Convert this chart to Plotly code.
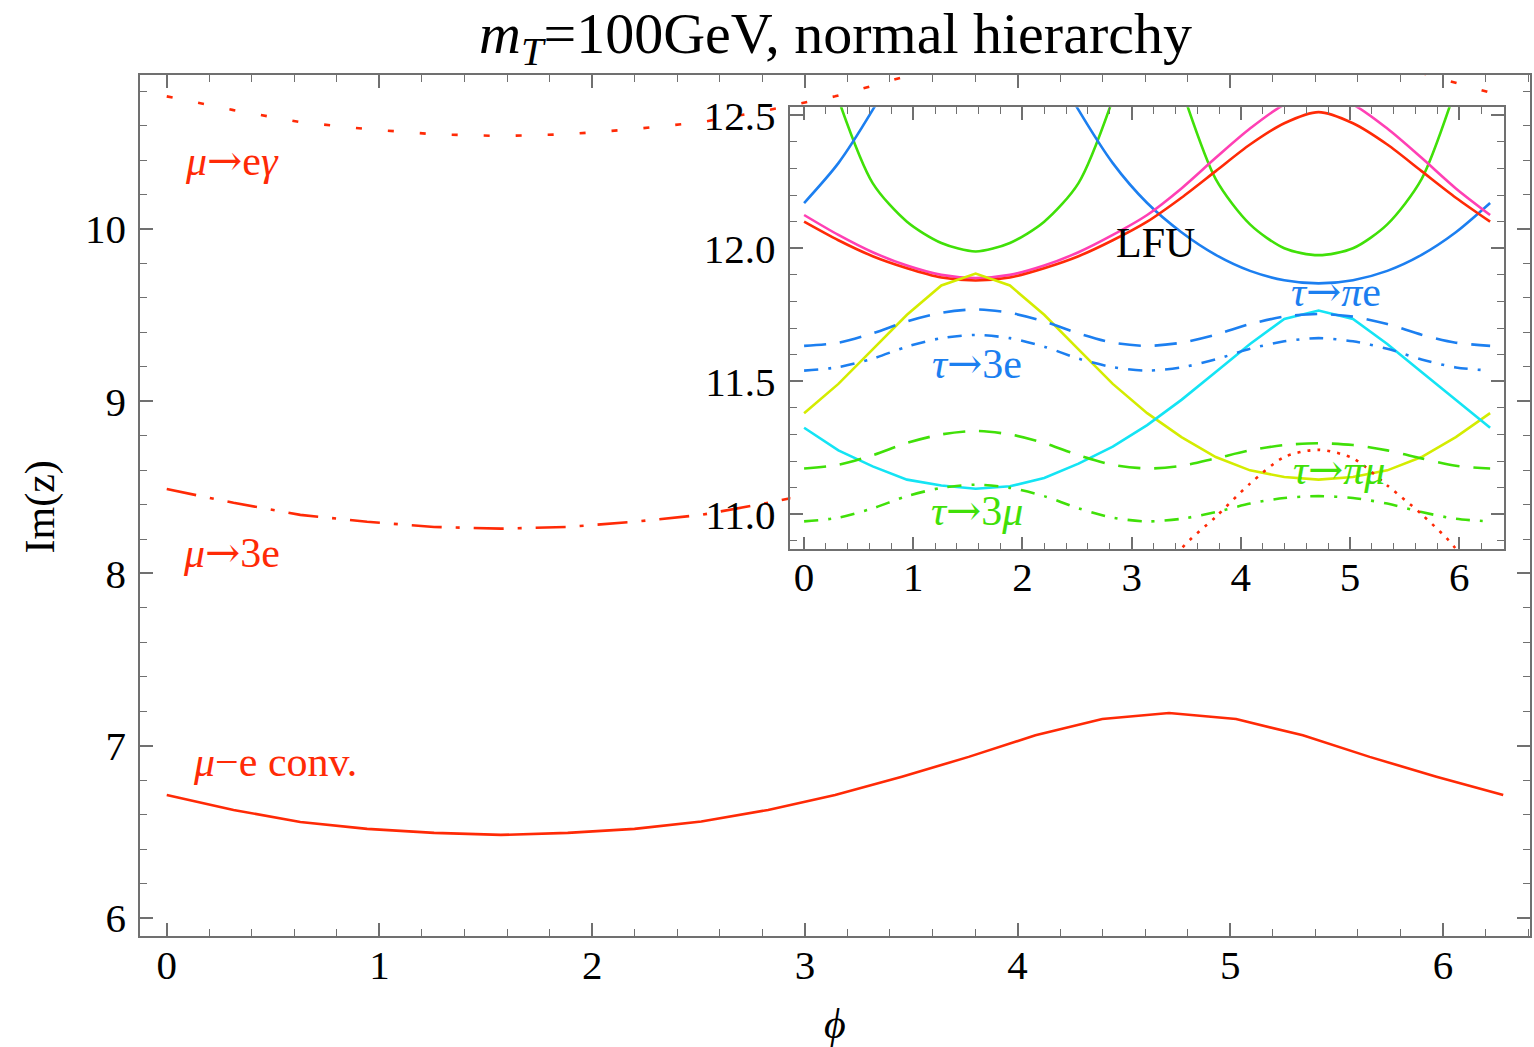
import plotly.graph_objects as go

# ---------------- data ----------------
PHI = [0.0, 0.314, 0.628, 0.942, 1.257, 1.571, 1.885, 2.199, 2.513, 2.827, 3.142,
       3.456, 3.770, 4.084, 4.398, 4.712, 5.027, 5.341, 5.655, 5.969, 6.283]

# main panel
MU_E_GAMMA = [10.77, 10.69, 10.62, 10.58, 10.55, 10.54, 10.55, 10.58, 10.62, 10.69, 10.77,
              10.88, 11.00, 11.13, 11.23, 11.27, 11.23, 11.13, 11.00, 10.88, 10.77]
MU_3E = [8.49, 8.41, 8.34, 8.30, 8.27, 8.26, 8.27, 8.30, 8.34, 8.41, 8.49,
         8.59, 8.70, 8.82, 8.92, 8.96, 8.92, 8.82, 8.70, 8.59, 8.49]
MU_E_CONV = [6.714, 6.627, 6.557, 6.517, 6.494, 6.482, 6.494, 6.517, 6.560, 6.627, 6.714,
             6.820, 6.935, 7.060, 7.155, 7.190, 7.155, 7.060, 6.935, 6.820, 6.714]

# inset panel
RED_SOLID = [12.10, 12.03, 11.97, 11.925, 11.89, 11.879, 11.89, 11.925, 11.97, 12.03, 12.10,
             12.19, 12.29, 12.39, 12.47, 12.512, 12.47, 12.39, 12.29, 12.19, 12.10]
PINK_SOLID = [12.125, 12.05, 11.985, 11.935, 11.90, 11.888, 11.90, 11.935, 11.985, 12.05, 12.125,
              12.225, 12.34, 12.45, 12.54, 12.58, 12.54, 12.45, 12.34, 12.225, 12.125]
BLUE_SOLID = [12.17, 12.32, 12.52, 12.75, 13.0, 13.2, 13.0, 12.75, 12.52, 12.32, 12.17,
              12.06, 11.975, 11.915, 11.88, 11.868, 11.88, 11.915, 11.975, 12.06, 12.17]
GREEN_SOLID = [13.0, 12.56, 12.245, 12.10, 12.02, 11.988, 12.02, 12.10, 12.245, 12.56, 13.0,
               12.60, 12.26, 12.09, 12.00, 11.974, 12.00, 12.09, 12.26, 12.60, 13.0]
YELLOW_SOLID = [11.38, 11.49, 11.62, 11.75, 11.86, 11.905, 11.86, 11.75, 11.62, 11.49, 11.38,
                11.29, 11.215, 11.165, 11.14, 11.13, 11.14, 11.165, 11.215, 11.29, 11.38]
CYAN_SOLID = [11.325, 11.24, 11.18, 11.13, 11.108, 11.096, 11.105, 11.136, 11.19, 11.254, 11.335,
              11.43, 11.535, 11.64, 11.734, 11.766, 11.734, 11.64, 11.535, 11.43, 11.325]
BLUE_DASHED = [11.633, 11.645, 11.68, 11.725, 11.757, 11.77, 11.757, 11.725, 11.68, 11.645, 11.633,
               11.645, 11.675, 11.715, 11.743, 11.753, 11.743, 11.715, 11.675, 11.645, 11.633]
BLUE_DASHDOT = [11.54, 11.553, 11.585, 11.63, 11.662, 11.674, 11.662, 11.63, 11.585, 11.553, 11.54,
                11.552, 11.582, 11.622, 11.65, 11.662, 11.65, 11.622, 11.582, 11.552, 11.54]
GREEN_DASHED = [11.172, 11.186, 11.222, 11.268, 11.30, 11.313, 11.30, 11.268, 11.222, 11.186, 11.172,
                11.182, 11.21, 11.24, 11.26, 11.267, 11.26, 11.24, 11.21, 11.182, 11.172]
GREEN_DASHDOT = [10.973, 10.987, 11.022, 11.068, 11.099, 11.111, 11.099, 11.068, 11.022, 10.987, 10.973,
                 10.983, 11.008, 11.04, 11.061, 11.068, 11.061, 11.04, 11.008, 10.983, 10.973]
RED_DOTTED = [None, None, None, None, None, None, None, None, None, None, 10.65,
              10.87, 10.99, 11.115, 11.215, 11.242, 11.21, 11.108, 11.0, 10.87, 10.65]

MAIN_XTICKS = [0, 1, 2, 3, 4, 5, 6]
MAIN_YTICKS = [6, 7, 8, 9, 10]
INSET_XTICKS = [0, 1, 2, 3, 4, 5, 6]
INSET_YTICKS = [11.0, 11.5, 12.0, 12.5]

# ---------------- style ----------------
FONT = "Liberation Serif, Times New Roman, serif"
RED = "#ff2a06"
PINK = "#ff40b4"
BLUE = "#1c7ff0"
GREEN = "#40e008"
YELLOW = "#d4ec00"
CYAN = "#14e4f4"
AX = "#707070"
ARROW = '<span style="font-family:DejaVu Serif">→</span>'

fig = go.Figure()

def add(y, color, dash="solid", shape="linear", inset=False, width=2.6):
    fig.add_trace(go.Scatter(
        x=PHI, y=y, mode="lines",
        line=dict(color=color, width=width, dash=dash, shape=shape, smoothing=0.8),
        xaxis="x2" if inset else "x", yaxis="y2" if inset else "y",
        showlegend=False, hoverinfo="skip", connectgaps=False))

# main curves
add(MU_E_GAMMA, RED, dash="6px,26px")
add(MU_3E, RED, dash="30px,14px,4px,14px")
add(MU_E_CONV, RED)

# inset curves
add(GREEN_SOLID, GREEN, shape="spline", inset=True)
add(BLUE_SOLID, BLUE, shape="spline", inset=True)
add(PINK_SOLID, PINK, shape="spline", inset=True)
add(RED_SOLID, RED, shape="spline", inset=True)
add(YELLOW_SOLID, YELLOW, inset=True)
add(CYAN_SOLID, CYAN, inset=True)
add(BLUE_DASHED, BLUE, dash="22px,14px", shape="spline", inset=True)
add(BLUE_DASHDOT, BLUE, dash="14px,10px,3px,10px", shape="spline", inset=True)
add(GREEN_DASHED, GREEN, dash="22px,14px", shape="spline", inset=True)
add(GREEN_DASHDOT, GREEN, dash="14px,10px,3px,10px", shape="spline", inset=True)
add(RED_DOTTED, RED, dash="3px,7px", shape="spline", inset=True)

tickfont = dict(family=FONT, size=41, color="black")

def axis_common():
    return dict(ticks="inside", ticklen=13, tickwidth=1.5, tickcolor=AX,
                showline=True, linecolor=AX, linewidth=1.5, mirror="ticks",
                showgrid=False, zeroline=False, tickfont=tickfont)

xa = axis_common()
xa.update(range=[-0.1257, 6.4089], tickvals=MAIN_XTICKS, ticklabelstandoff=-8,
          minor=dict(dtick=0.2, tick0=0, ticks="inside", ticklen=7, tickwidth=1.2, tickcolor=AX))
ya = axis_common()
ya.update(range=[5.895, 10.894], tickvals=MAIN_YTICKS, ticklabelstandoff=4,
          minor=dict(dtick=0.2, tick0=0, ticks="inside", ticklen=7, tickwidth=1.2, tickcolor=AX))
xa2 = axis_common()
xa2.update(range=[-0.1257, 6.4089], tickvals=INSET_XTICKS, anchor="y2",
           domain=[0.4679, 0.9812], ticklabelstandoff=-9,
           minor=dict(dtick=0.2, tick0=0, ticks="inside", ticklen=7, tickwidth=1.2, tickcolor=AX))
ya2 = axis_common()
ya2.update(range=[10.868, 12.53], tickvals=INSET_YTICKS, tickformat=".1f", anchor="x2",
           domain=[0.4491, 0.9625], ticklabelstandoff=5,
           minor=dict(dtick=0.1, tick0=0, ticks="inside", ticklen=7, tickwidth=1.2, tickcolor=AX))

ann = []
def label(text, x, y, color, size=42, xref="x", yref="y"):
    ann.append(dict(text=text, x=x, y=y, xref=xref, yref=yref, showarrow=False,
                    font=dict(family=FONT, size=size, color=color),
                    xanchor="center", yanchor="middle"))

label("<i>μ</i>" + ARROW + "e<i>γ</i>", 0.305, 10.40, RED)
label("<i>μ</i>" + ARROW + "3e", 0.305, 8.12, RED)
label("<i>μ</i>−e conv.", 0.507, 6.906, RED)
label("LFU", 3.22, 12.02, "black", xref="x2", yref="y2")
label("<i>τ</i>" + ARROW + "<i>π</i>e", 4.875, 11.837, BLUE, xref="x2", yref="y2")
label("<i>τ</i>" + ARROW + "3e", 1.58, 11.567, BLUE, xref="x2", yref="y2")
label("<i>τ</i>" + ARROW + "<i>π</i><i>μ</i>", 4.9, 11.17, GREEN, xref="x2", yref="y2")
label("<i>τ</i>" + ARROW + "3<i>μ</i>", 1.58, 11.013, GREEN, xref="x2", yref="y2")

ann.append(dict(text="Im(z)", x=-0.0718, y=0.498, xref="paper", yref="paper",
                showarrow=False, textangle=-90, font=dict(family=FONT, size=42, color="black"),
                xanchor="center", yanchor="middle"))
ann.append(dict(text="<i>ϕ</i>", x=0.5, y=-0.1025, xref="paper", yref="paper",
                showarrow=False, font=dict(family=FONT, size=42, color="black"),
                xanchor="center", yanchor="middle"))
ann.append(dict(text="<i>m</i><sub><i>T</i></sub>=100GeV, normal hierarchy", x=0.5, y=1.0435,
                xref="paper", yref="paper", showarrow=False,
                font=dict(family=FONT, size=58, color="black"),
                xanchor="center", yanchor="middle"))

fig.update_layout(
    width=1534, height=1047,
    margin=dict(l=140, r=2, t=75, b=111),
    paper_bgcolor="white", plot_bgcolor="white",
    xaxis=xa, yaxis=ya, xaxis2=xa2, yaxis2=ya2,
    annotations=ann, showlegend=False,
)

fig.write_html("out.html", config={"displayModeBar": False},
               post_script="document.body.style.margin='0px';document.body.style.overflow='hidden';")
